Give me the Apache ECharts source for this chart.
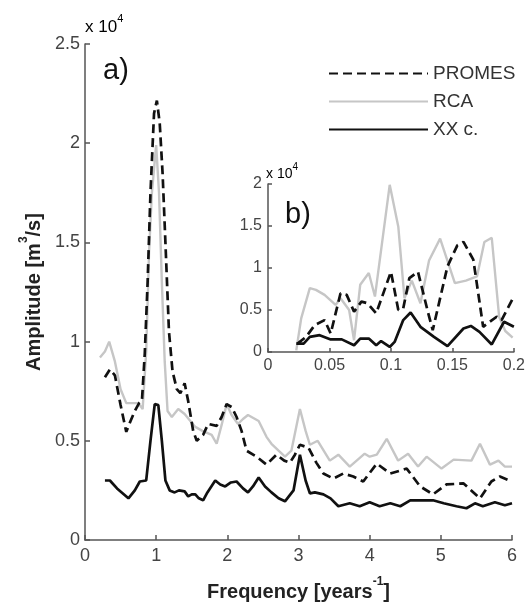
<!DOCTYPE html>
<html><head><meta charset="utf-8">
<script src="https://cdn.jsdelivr.net/npm/echarts@6/dist/echarts.min.js"></script>
<style>html,body{margin:0;padding:0;background:#fff}#c{width:528px;height:607px}</style>
</head><body><div id="c"></div>
<script>
// ---- Main panel (a): amplitude in units of 10^4 m3/s ----
var promesF = [0.28,0.35,0.42,0.50,0.58,0.64,0.70,0.76,0.80,0.84,0.88,0.92,0.97,1.01,1.05,1.09,1.13,1.18,1.23,1.29,1.34,1.40,1.45,1.52,1.57,1.66,1.73,1.85,1.92,1.99,2.06,2.13,2.20,2.27,2.41,2.55,2.69,2.80,2.88,2.95,3.02,3.14,3.25,3.35,3.49,3.63,3.77,3.91,4.10,4.29,4.52,4.71,4.89,5.08,5.32,5.55,5.71,5.83,6.0];
var promesA = [0.82,0.86,0.83,0.68,0.545,0.60,0.65,0.69,0.70,0.94,1.30,1.75,2.15,2.215,2.10,1.85,1.50,1.05,0.85,0.76,0.74,0.79,0.70,0.55,0.50,0.53,0.585,0.575,0.62,0.685,0.67,0.62,0.55,0.45,0.42,0.38,0.43,0.40,0.39,0.43,0.48,0.465,0.39,0.335,0.31,0.335,0.32,0.295,0.385,0.335,0.36,0.27,0.23,0.28,0.285,0.21,0.295,0.32,0.295];

var rcaF = [0.21,0.28,0.34,0.42,0.50,0.58,0.66,0.75,0.81,0.86,0.90,0.94,1.00,1.04,1.08,1.12,1.16,1.22,1.31,1.40,1.48,1.55,1.65,1.78,1.85,1.92,1.99,2.06,2.15,2.22,2.29,2.44,2.55,2.62,2.72,2.81,2.90,3.02,3.10,3.16,3.27,3.44,3.56,3.72,3.93,4.0,4.10,4.24,4.40,4.54,4.68,4.80,5.01,5.18,5.43,5.55,5.69,5.81,5.90,6.0];
var rcaA = [0.92,0.95,1.0,0.90,0.76,0.69,0.69,0.69,0.66,0.95,1.45,1.75,1.99,1.75,1.30,0.90,0.65,0.62,0.66,0.635,0.60,0.57,0.55,0.53,0.485,0.58,0.685,0.63,0.585,0.61,0.63,0.60,0.52,0.485,0.45,0.42,0.45,0.66,0.55,0.48,0.50,0.40,0.43,0.37,0.435,0.42,0.43,0.51,0.40,0.435,0.37,0.42,0.36,0.405,0.40,0.485,0.38,0.40,0.37,0.37];

var xxF = [0.28,0.35,0.45,0.61,0.70,0.77,0.86,0.92,0.98,1.03,1.08,1.13,1.19,1.26,1.32,1.40,1.45,1.50,1.55,1.60,1.66,1.72,1.83,1.90,1.97,2.05,2.13,2.22,2.29,2.36,2.44,2.53,2.62,2.72,2.81,2.93,3.02,3.10,3.16,3.23,3.35,3.45,3.56,3.72,3.86,4.0,4.14,4.29,4.43,4.57,4.71,4.89,5.04,5.22,5.36,5.48,5.59,5.76,5.90,6.0];
var xxA = [0.30,0.30,0.26,0.21,0.25,0.295,0.30,0.50,0.685,0.68,0.50,0.30,0.25,0.24,0.25,0.245,0.22,0.23,0.23,0.21,0.20,0.24,0.30,0.28,0.27,0.29,0.295,0.26,0.24,0.27,0.315,0.27,0.24,0.21,0.195,0.25,0.43,0.30,0.235,0.24,0.23,0.21,0.17,0.185,0.17,0.19,0.17,0.185,0.17,0.20,0.20,0.20,0.185,0.17,0.16,0.185,0.17,0.19,0.175,0.185];

// ---- Inset panel (b) ----
var promesBF = [0.024,0.031,0.038,0.046,0.051,0.059,0.064,0.070,0.076,0.081,0.088,0.100,0.106,0.110,0.115,0.122,0.130,0.134,0.146,0.154,0.159,0.167,0.175,0.186,0.190,0.200];
var promesBA = [0.10,0.18,0.32,0.38,0.22,0.70,0.68,0.48,0.60,0.58,0.46,0.955,0.50,0.52,0.88,0.955,0.48,0.26,1.02,1.27,1.31,1.10,0.30,0.42,0.38,0.66];

var rcaBF = [0.023,0.027,0.034,0.039,0.046,0.055,0.059,0.066,0.070,0.075,0.082,0.087,0.099,0.106,0.111,0.117,0.124,0.131,0.140,0.152,0.161,0.170,0.176,0.182,0.188,0.193,0.199];
var rcaBA = [0.02,0.40,0.76,0.74,0.68,0.56,0.64,0.50,0.14,0.80,0.94,0.66,1.99,1.49,0.64,0.85,0.58,1.09,1.35,0.82,0.85,0.90,1.31,1.36,0.42,0.25,0.17];

var xxBF = [0.023,0.029,0.034,0.042,0.051,0.060,0.070,0.075,0.082,0.088,0.092,0.099,0.103,0.110,0.116,0.124,0.135,0.146,0.159,0.165,0.172,0.182,0.192,0.200];
var xxBA = [0.10,0.10,0.18,0.20,0.15,0.15,0.08,0.16,0.16,0.08,0.13,0.06,0.12,0.38,0.47,0.30,0.18,0.07,0.28,0.31,0.24,0.09,0.36,0.30];

var seriesNames = ['PROMES','RCA','XX c.'];

function pairs(f, a){ return f.map(function(v,i){ return [v, a[i]]; }); }

var FONT = 'Liberation Sans, Arial, sans-serif';
var axisCol = '#555';
var dashStyle = {color:'#111', width:2.7, type:[9,5]};
var grayStyle = {color:'#c6c6c6', width:2.4};
var blackStyle = {color:'#111', width:2.7};

function mkSeries(name, data, style, idx){
  return {name:name, type:'line', data:data, xAxisIndex:idx, yAxisIndex:idx,
    symbol:'none', showSymbol:false, lineStyle:style, itemStyle:{color:style.color},
    emphasis:{disabled:true}, animation:false, z: name==='RCA'?2:3};
}

var richName = {
  a:{fontSize:20, fontWeight:'bold', color:'#222', fontFamily:FONT, verticalAlign:'bottom', lineHeight:26},
  s:{fontSize:12, fontWeight:'bold', color:'#222', fontFamily:FONT, verticalAlign:'top', lineHeight:26}
};

var chart = echarts.init(document.getElementById('c'), null, {renderer:'canvas'});
chart.setOption({
  backgroundColor:'#fff',
  animation:false,
  textStyle:{fontFamily:FONT},
  legend:{
    data:seriesNames, orient:'vertical', left:323, top:59, itemWidth:99, itemHeight:20, itemGap:9,
    itemStyle:{opacity:0},
    textStyle:{fontSize:19, color:'#333', fontFamily:FONT}, selectedMode:false
  },
  grid:[
    {left:85, top:44, width:427, height:500},
    {left:268, top:184, width:250, height:168, backgroundColor:'#fff', show:true, borderWidth:0}
  ],
  xAxis:[
    {gridIndex:0, type:'value', min:0, max:6, interval:1,
     name:'{a|Frequency [years}{s|-1}{a|]}', nameLocation:'middle', nameGap:36,
     nameTextStyle:{rich:richName},
     axisLine:{onZero:false, lineStyle:{color:axisCol, width:1.5}},
     axisTick:{inside:true, length:5, lineStyle:{color:axisCol, width:1.5}},
     axisLabel:{fontSize:18, color:'#444', margin:7, fontFamily:FONT},
     splitLine:{show:false}},
    {gridIndex:1, type:'value', min:0, max:0.2, interval:0.05,
     axisLine:{onZero:false, lineStyle:{color:axisCol, width:1.5}},
     axisTick:{inside:true, length:4, lineStyle:{color:axisCol, width:1.5}},
     axisLabel:{fontSize:16, color:'#444', margin:6, fontFamily:FONT, showMaxLabel:true},
     splitLine:{show:false}}
  ],
  yAxis:[
    {gridIndex:0, type:'value', min:0, max:2.5, interval:0.5,
     name:'{a|Amplitude [m}{s|3}{a|/s]}', nameLocation:'middle', nameGap:38, nameRotate:90,
     nameTextStyle:{rich:richName},
     axisLine:{onZero:false, lineStyle:{color:axisCol, width:1.5}},
     axisTick:{inside:true, length:5, lineStyle:{color:axisCol, width:1.5}},
     axisLabel:{fontSize:18, color:'#444', margin:5, fontFamily:FONT},
     splitLine:{show:false}},
    {gridIndex:1, type:'value', min:0, max:2, interval:0.5,
     axisLine:{onZero:false, lineStyle:{color:axisCol, width:1.5}},
     axisTick:{inside:true, length:4, lineStyle:{color:axisCol, width:1.5}},
     axisLabel:{fontSize:16, color:'#444', margin:6, fontFamily:FONT},
     splitLine:{show:false}}
  ],
  series:[
    mkSeries('RCA', pairs(rcaF, rcaA), grayStyle, 0),
    mkSeries('PROMES', pairs(promesF, promesA), dashStyle, 0),
    mkSeries('XX c.', pairs(xxF, xxA), blackStyle, 0),
    mkSeries('RCA', pairs(rcaBF, rcaBA), grayStyle, 1),
    mkSeries('PROMES', pairs(promesBF, promesBA), dashStyle, 1),
    mkSeries('XX c.', pairs(xxBF, xxBA), blackStyle, 1)
  ],
  graphic:[
    {type:'text', left:85, top:13, style:{text:'{a|x 10}{s|4}', fontFamily:FONT,
      rich:{a:{fontSize:17, color:'#333', verticalAlign:'bottom', lineHeight:23}, s:{fontSize:11, color:'#333', verticalAlign:'top', lineHeight:23}}}},
    {type:'text', left:103, top:56, style:{text:'a)', fontSize:29, fill:'#111', fontFamily:FONT}},
    {type:'text', left:266, top:162, style:{text:'{a|x 10}{s|4}', fontFamily:FONT,
      rich:{a:{fontSize:14, color:'#333', verticalAlign:'bottom', lineHeight:19}, s:{fontSize:10, color:'#333', verticalAlign:'top', lineHeight:19}}}},
    {type:'text', left:285, top:200, style:{text:'b)', fontSize:29, fill:'#111', fontFamily:FONT}}
  ]
});
</script></body></html>
